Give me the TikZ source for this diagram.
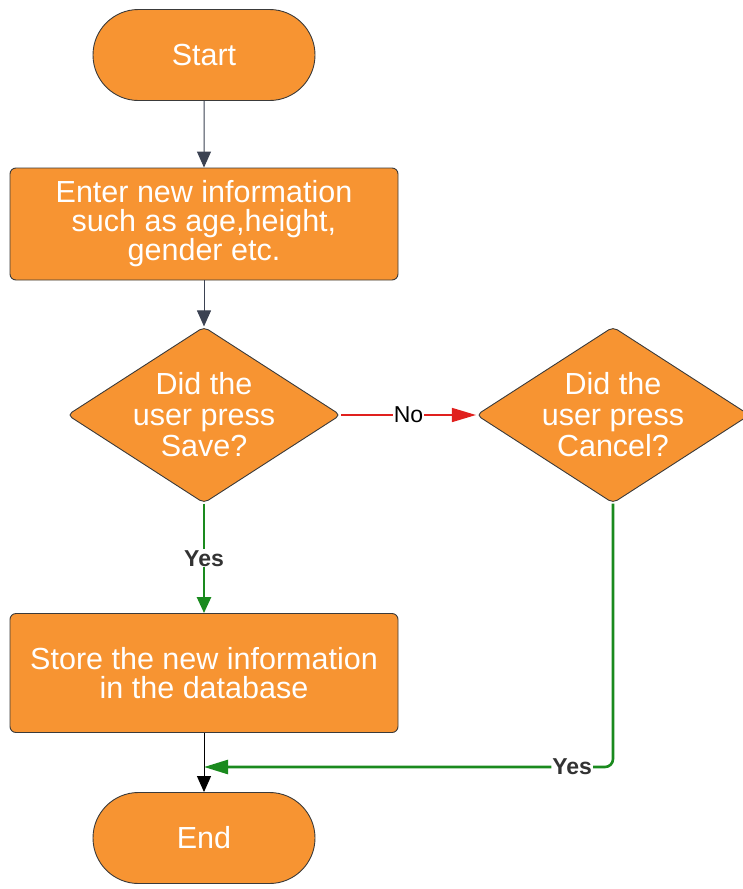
\documentclass[tikz,border=0pt]{standalone}
\usepackage{fontspec}
\setmainfont{Liberation Sans}
\usepackage{xcolor}
\usetikzlibrary{shapes.geometric, shapes.misc}
\usetikzlibrary{arrows.meta}

\definecolor{boxorange}{HTML}{F79432}
\definecolor{edgegray}{HTML}{3A3A3A}
\definecolor{slate}{HTML}{3B4252}
\definecolor{noRed}{HTML}{E0201E}
\definecolor{yesGreen}{HTML}{1A8A1E}
\definecolor{labelgray}{HTML}{333333}

\tikzset{
  base/.style={draw=edgegray, line width=0.9pt, fill=boxorange, text=white,
    align=center, inner sep=0pt, font=\fontsize{30.5}{29}\selectfont},
  terminal/.style={base, rounded rectangle, minimum width=222, minimum height=91},
  process/.style={base, rectangle, rounded corners=6pt, minimum width=388},
  decision/.style={base, diamond, aspect=1.55, rounded corners=5pt,
    minimum height=175, font=\fontsize{30.5}{31}\selectfont},
  tip/.style={-{Triangle[width=14pt,length=16pt]}},
  sidetip/.style={-{Triangle[width=14pt,length=24pt]}},
  flowlabel/.style={fill=white, inner sep=1pt, font=\fontsize{23}{23}\selectfont}
}

\begin{document}
\begin{tikzpicture}[x=1pt,y=-1pt]
\useasboundingbox (0,0) rectangle (743,889);

% Flow nodes
\node[terminal] (start) at (204,55) {Start};
\node[process, minimum height=112] (enter) at (204,224)
    {Enter new information\\such as age,height,\\gender etc.};
\node[decision, minimum width=272] (save) at (204,415)
    {Did the\\user press\\Save?};
\node[decision, minimum width=262] (cancel) at (613,415)
    {Did the\\user press\\Cancel?};
\node[process, minimum height=119] (store) at (204,673)
    {Store the new information\\in the database};
\node[terminal] (end) at (204,838) {End};

\coordinate (join) at (204,767);
\coordinate (turn) at (cancel.south |- join);

% Connectors
\draw[slate, line width=1pt, tip] (start) -- (enter);
\draw[slate, line width=1pt, tip] (enter) -- (save);
\draw[noRed, line width=1.6pt, sidetip] (save) -- (cancel)
    node[midway, flowlabel, text=black] {No};
\draw[yesGreen, line width=2.6pt, tip] (save) -- (store)
    node[midway, flowlabel, text=labelgray] {\bfseries Yes};
\draw[black, line width=1pt, tip] (store) -- (end);
\draw[yesGreen, line width=2.6pt, sidetip, rounded corners=8pt]
    (cancel.south) -- (turn) -- (join)
    node[pos=0.1, flowlabel, text=labelgray] {\bfseries Yes};
\end{tikzpicture}
\end{document}
